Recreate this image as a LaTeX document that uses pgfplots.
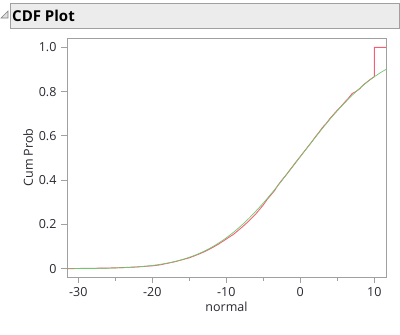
\documentclass[border=0pt]{standalone}
\usepackage{fontspec}
\setmainfont{Open Sans}
\usepackage{pgfplots}
\pgfplotsset{compat=1.18}
\definecolor{cdfred}{RGB}{245,95,115}
\definecolor{fitgreen}{RGB}{110,200,110}
\definecolor{framegray}{RGB}{160,160,160}
\definecolor{headfill}{RGB}{236,236,236}
\definecolor{labcol}{RGB}{40,40,50}
\begin{document}
\begin{tikzpicture}
\path[use as bounding box] (0pt,0pt) rectangle (400pt,-335pt);
% header bar
\draw[framegray,fill=headfill,line width=0.8pt] (10pt,-3pt) rectangle (399pt,-28pt);
\draw[gray,line width=0.6pt,fill=gray!25] (1pt,-18pt) -- (8pt,-18pt) -- (8pt,-11pt) -- cycle;
\node[anchor=base west,inner sep=0,font=\fontsize{15}{17}\selectfont\bfseries] at (12pt,-21pt) {CDF Plot};
\begin{axis}[
  at={(67pt,-277pt)}, anchor=south west,
  scale only axis, width=319pt, height=239pt,
  xmin=-31.53, xmax=11.58, ymin=-0.0375, ymax=1.042,
  axis line style={framegray,line width=0.8pt},
  xtick={-30,-20,-10,0,10},
  minor xtick={-25,-15,-5,5},
  ytick={0,0.2,0.4,0.6,0.8,1.0},
  yticklabels={0,0.2,0.4,0.6,0.8,1.0},
  tick align=outside, xtick pos=bottom, ytick pos=left,
  major tick length=6pt, minor tick length=3.5pt,
  tick style={framegray,line width=0.8pt},
  /pgf/number format/assume math mode=true,
  ticklabel style={font=\fontsize{12.5}{14}\selectfont, text=labcol},
  xticklabel style={yshift=-1pt},
  yticklabel style={xshift=-1pt},
  xlabel={normal}, ylabel={Cum Prob},
  label style={font=\fontsize{12.5}{14}\selectfont, text=labcol},
  xlabel style={yshift=2pt},
  ylabel style={yshift=-1pt},
]
\addplot[cdfred, line width=0.9pt, sharp plot] coordinates {
(-31.53,0.000) (-30,0.001) (-28,0.002) (-26,0.003) (-24,0.005) (-22,0.008)
(-20,0.013) (-19,0.017) (-18,0.024) (-17,0.031) (-16,0.040) (-15,0.049)
(-14,0.062) (-13,0.076) (-12,0.093) (-11,0.112) (-10,0.134) (-9,0.156)
(-8,0.184) (-7,0.214) (-6,0.248) (-5,0.288) (-4.5,0.312) (-4,0.332)
(-3.5,0.352) (-3,0.378) (-2.5,0.400) (-2,0.420) (-1.5,0.442) (-1,0.464)
(-0.5,0.486) (0,0.507) (0.5,0.528) (1,0.550) (1.5,0.571) (2,0.594)
(2.5,0.615) (3,0.638) (3.5,0.656) (4,0.678) (4.5,0.697) (5,0.716)
(5.5,0.733) (6,0.752) (6.5,0.770) (7,0.791) (7.5,0.800) (8,0.812)
(8.5,0.830) (9,0.843) (9.5,0.856) (10,0.867) (10,1.0) (11.58,1.0)
};
\addplot[fitgreen, line width=0.7pt, smooth] coordinates {
(-31.53,0.00029) (-31,0.00036) (-30,0.00053) (-29,0.00077) (-28,0.00112) (-27,0.00161)
(-26,0.00228) (-25,0.00320) (-24,0.00443) (-23,0.00607) (-22,0.00824) (-21,0.0111)
(-20,0.0147) (-19,0.0193) (-18,0.0250) (-17,0.0322) (-16,0.0409) (-15,0.0516)
(-14,0.0641) (-13,0.0791) (-12,0.0965) (-11,0.1167) (-10,0.1396) (-9,0.1653)
(-8,0.194) (-7,0.2257) (-6,0.260) (-5,0.2967) (-4,0.336) (-3,0.3765) (-2,0.419)
(-1,0.462) (0,0.506) (1,0.549) (2,0.592) (3,0.634) (4,0.675) (5,0.713) (6,0.749)
(7,0.783) (8,0.814) (9,0.842) (10,0.867) (11,0.889) (11.58,0.900)
};
\end{axis}
\end{tikzpicture}
\end{document}
